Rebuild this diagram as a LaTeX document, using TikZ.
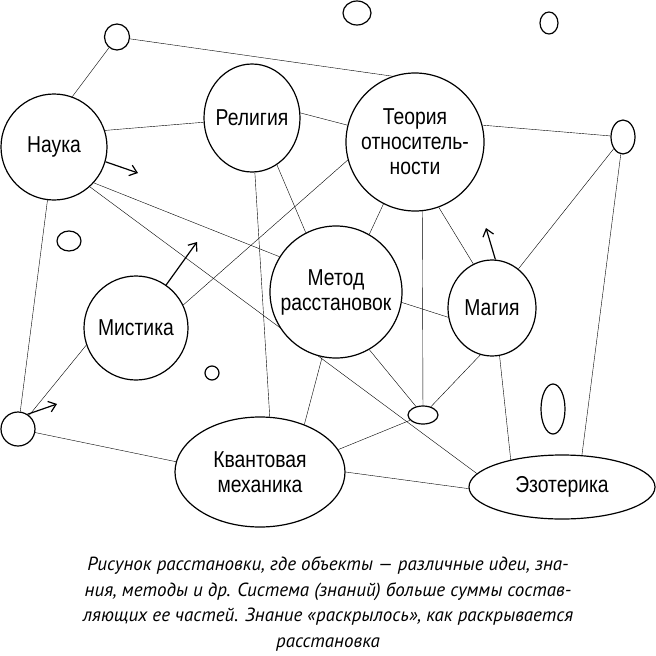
\documentclass[tikz,border=0pt]{standalone}
\usepackage{fontspec}
\setmainfont{Liberation Sans}[FakeStretch=0.84]
\newfontfamily\capfont{PT Sans}
\usepackage{tikz}
\usetikzlibrary{shapes, arrows.meta, positioning, backgrounds}

\begin{document}
\begin{tikzpicture}[x=1pt, y=-1pt, line width=1.2pt,
  >={Straight Barb[length=7pt,width=11pt]},
  idea/.style={draw, circle, fill=white, inner sep=0pt, align=center, font=\fontsize{23}{25}\selectfont},
  oval/.style={draw, ellipse, fill=white, inner sep=0pt, align=center, font=\fontsize{23}{25}\selectfont},
  blob/.style={draw, ellipse, fill=white, inner sep=0pt}]
\useasboundingbox (0,0) rectangle (656,656);
% empty ovals
\node[blob, minimum width=25, minimum height=26] (o1) at (117,37) {};
\node[blob, minimum width=28, minimum height=24] (o2) at (357,13) {};
\node[blob, minimum width=18, minimum height=22] (o3) at (549,23) {};
\node[blob, minimum width=24, minimum height=34] (o4) at (623,137) {};
\node[blob, minimum width=24, minimum height=20] (o5) at (69,241) {};
\node[blob, minimum size=34] (o6) at (18,429) {};
\node[blob, minimum size=14] (o7) at (212,373) {};
\node[blob, minimum width=30, minimum height=18] (o8) at (423,415) {};
\node[blob, minimum width=24, minimum height=50] (o9) at (553,409) {};
% ideas
\node[idea, minimum size=106] (nauka) at (54,147) {Наука};
\node[oval, minimum width=96, minimum height=108, inner xsep=-4pt] (religia) at (252,118) {Религия};
\node[idea, minimum size=138] (teoria) at (415,142) {Теория\\относитель-\\ности};
\node[idea, minimum size=104] (mistika) at (136,328) {Мистика};
\node[idea, minimum size=132] (metod) at (336,292) {Метод\\расстановок};
\node[oval, minimum width=88, minimum height=96] (magia) at (492,308) {Магия};
\node[oval, minimum width=170, minimum height=110] (kvant) at (260,472) {Квантовая\\механика};
\node[oval, minimum width=186, minimum height=64] (ezot) at (562,487) {Эзотерика};
% arrow ends
\coordinate (a1) at (138,173);
\coordinate (a2) at (197,242);
\coordinate (a3) at (57,404);
\coordinate (a4) at (486,228);
% links
\begin{scope}[on background layer]
\draw (nauka.70) -- (o1);
\draw (o1) -- (teoria.109);
\draw (nauka.18) -- (religia.185);
\draw (religia.6) -- (teoria.166);
\draw (nauka.-42) -- (metod.148);
\draw (nauka.-48) -- (ezot.171);
\draw (religia.-62) -- (metod.117);
\draw (religia.-87) -- (kvant.80);
\draw (teoria.195) -- (mistika.26);
\draw (teoria.243) -- (metod.60);
\draw (teoria.-84) -- (o8);
\draw (teoria.-70) -- (magia.113);
\draw (teoria.14) -- (o4);
\draw (o4) -- (magia.56);
\draw (o4) -- (ezot.58);
\draw (magia.192) -- (metod.-9);
\draw (magia.256) -- (o8);
\draw (magia.-81) -- (ezot.152);
\draw (metod.-60) -- (o8);
\draw (o8) -- (kvant.16);
\draw (kvant.0) -- (ezot.181);
\draw (metod.258) -- (kvant.47);
\draw (nauka.-97) -- (o6);
\draw (o6) -- (mistika.199);
\draw (o6) -- (kvant.173);
\end{scope}
\draw[->] (nauka.-16) -- (a1);
\draw[->] (mistika.55) -- (a2);
\draw[->] (o6.57) -- (a3);
\draw[->] (magia.86) -- (a4);
% caption
\node[font=\capfont\itshape\fontsize{19}{25.7}\selectfont, align=center] (caption) at (328,604)
  {Рисунок расстановки, где объекты — различные идеи, зна-\\
   ния, методы и др. Система (знаний) больше суммы состав-\\
   ляющих ее частей. Знание «раскрылось», как раскрывается\\
   расстановка};
\end{tikzpicture}
\end{document}
